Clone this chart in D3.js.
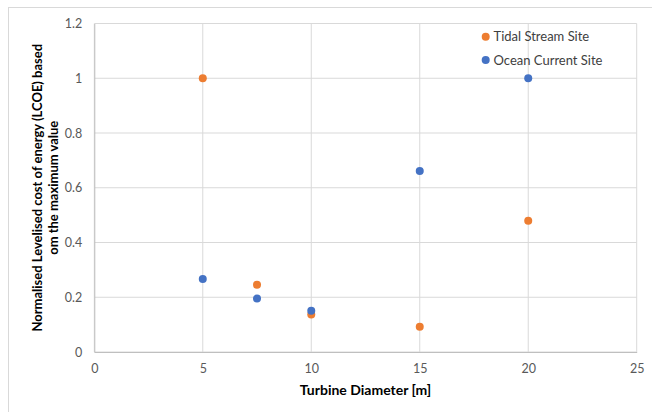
<!DOCTYPE html>
<html>
<head>
<meta charset="utf-8">
<script src="https://cdn.jsdelivr.net/npm/d3@7"></script>
<style>
  html, body { margin: 0; padding: 0; background: #fff; }
  svg { display: block; font-family: Lato, "Open Sans", sans-serif; }
</style>
</head>
<body>
<svg id="chart" width="652" height="412"></svg>
<script>
// Turbine diameters (m) and normalised LCOE for each site type
const diameters = [5, 7.5, 10, 15, 20];
const tidalStream = [1.0, 0.246, 0.137, 0.092, 0.479];
const oceanCurrent = [0.267, 0.195, 0.151, 0.661, 1.0];

const seriesNames = ["Tidal Stream Site", "Ocean Current Site"];
const seriesColors = ["#ED7D31", "#4472C4"];

const xTicks = [0, 5, 10, 15, 20, 25];
const yTicks = [0, 0.2, 0.4, 0.6, 0.8, 1.0, 1.2];

const svg = d3.select("#chart");
const W = 652, H = 412;
const margin = { left: 94.3, right: W - 636.7, top: 23.5, bottom: H - 352 };

const x = d3.scaleLinear().domain([0, 25]).range([margin.left, W - margin.right]);
const y = d3.scaleLinear().domain([0, 1.2]).range([H - margin.bottom, margin.top]);

// chart frame
svg.append("rect")
  .attr("x", 8.5).attr("y", 7.5)
  .attr("width", W + 10).attr("height", H + 10)
  .attr("fill", "#fff").attr("stroke", "#d9d9d9").attr("stroke-width", 1);

// gridlines
const grid = svg.append("g");
grid.selectAll("line.h").data(yTicks).join("line")
  .attr("x1", x(0)).attr("x2", x(25))
  .attr("y1", d => y(d)).attr("y2", d => y(d))
  .attr("stroke", "#d9d9d9").attr("stroke-width", 1);
grid.selectAll("line.v").data(xTicks).join("line")
  .attr("y1", y(0)).attr("y2", y(1.2))
  .attr("x1", d => x(d)).attr("x2", d => x(d))
  .attr("stroke", "#d9d9d9").attr("stroke-width", 1);

// axes (labels only, lines come from the grid)
const fmt = d => d === 0 ? "0" : (Number.isInteger(d) ? String(d) : String(+d.toFixed(1)));
const yAxis = svg.append("g")
  .attr("transform", `translate(${x(0)},0)`)
  .call(d3.axisLeft(y).tickValues(yTicks).tickFormat(fmt).tickSize(0).tickPadding(12));
const xAxis = svg.append("g")
  .attr("transform", `translate(0,${y(0)})`)
  .call(d3.axisBottom(x).tickValues(xTicks).tickFormat(fmt).tickSize(0).tickPadding(12));
[yAxis, xAxis].forEach(a => {
  a.select(".domain").attr("stroke", "#bfbfbf");
  a.selectAll("text").attr("fill", "#595959").style("font-size", "12.5px")
    .style("font-family", "Lato, 'Open Sans', sans-serif");
});

// data points
const series = [tidalStream, oceanCurrent];
series.forEach((vals, i) => {
  svg.append("g").selectAll("circle")
    .data(diameters.map((d, j) => [d, vals[j]]))
    .join("circle")
    .attr("cx", d => x(d[0])).attr("cy", d => y(d[1]))
    .attr("r", 4)
    .attr("fill", seriesColors[i]);
});

// axis titles
svg.append("text")
  .attr("x", (x(0) + x(25)) / 2).attr("y", 395)
  .attr("text-anchor", "middle")
  .attr("fill", "#000").style("font-weight", "bold").style("font-size", "14px")
  .text("Turbine Diameter [m]");

const yTitle = svg.append("text")
  .attr("transform", `translate(42,${(y(0) + y(1.2)) / 2}) rotate(-90)`)
  .attr("text-anchor", "middle")
  .attr("fill", "#000").style("font-weight", "bold").style("font-size", "13px");
yTitle.append("tspan").attr("x", 0).attr("dy", 0).text("Normalised Levelised cost of energy (LCOE) based");
yTitle.append("tspan").attr("x", 0).attr("dy", 15.5).text("om the maximum value");

// legend
const legend = svg.append("g");
seriesNames.forEach((name, i) => {
  const ly = 36.7 + i * 23.3;
  legend.append("circle").attr("cx", 485.7).attr("cy", ly).attr("r", 4).attr("fill", seriesColors[i]);
  legend.append("text").attr("x", 493.5).attr("y", ly + 4.5)
    .attr("fill", "#404040").style("font-size", "13px").text(name);
});
</script>
</body>
</html>
